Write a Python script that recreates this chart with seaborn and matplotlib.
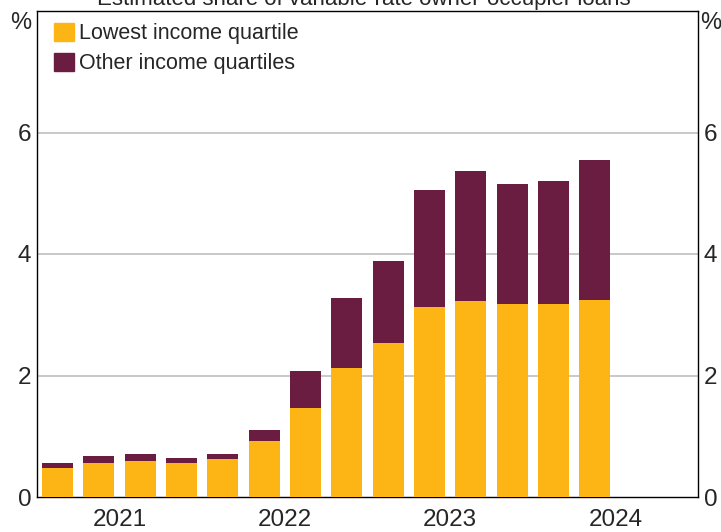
import pandas as pd
import numpy as np
import matplotlib
matplotlib.use('Agg')
import matplotlib.pyplot as plt
import seaborn as sns
from matplotlib.patches import Patch

# 数据 (从图上读出的估计值, 单位 %)
quarters = ['2021Q1', '2021Q2', '2021Q3', '2021Q4',
            '2022Q1', '2022Q2', '2022Q3', '2022Q4',
            '2023Q1', '2023Q2', '2023Q3', '2023Q4',
            '2024Q1', '2024Q2', '2024Q3', '2024Q4']
lowest = [0.48, 0.565, 0.60, 0.565, 0.63, 0.93, 1.47, 2.13,
          2.53, 3.12, 3.22, 3.17, 3.17, 3.25]
other = [0.085, 0.115, 0.10, 0.085, 0.08, 0.18, 0.61, 1.14,
         1.36, 1.93, 2.14, 1.98, 2.03, 2.29]
years = ['2021', '2022', '2023', '2024']
y_ticks = [0, 2, 4, 6]

c_low = '#FDB515'
c_other = '#6B1C41'

df = pd.DataFrame({'quarter': quarters[:len(lowest)],
                   'lowest': lowest, 'other': other})
df['total'] = df['lowest'] + df['other']

sns.set_theme(style='white')
plt.rcParams['font.family'] = ['Liberation Sans', 'DejaVu Sans']

fig = plt.figure(figsize=(7.21, 5.32), dpi=100)
ax = fig.add_axes([37/721, 35/532, 661/721, 486/532])

# 堆叠柱状图: 先画总数, 再画最低收入部分
sns.barplot(data=df, x='quarter', y='total', order=quarters, color=c_other,
            width=0.75, saturation=1, linewidth=0, edgecolor='none', ax=ax, zorder=3)
sns.barplot(data=df, x='quarter', y='lowest', order=quarters, color=c_low,
            width=0.75, saturation=1, linewidth=0, edgecolor='none', ax=ax, zorder=3)

ax.set_xlim(-0.5, len(quarters) - 0.5)
ax.set_ylim(0, 8)
ax.set_xlabel('')
ax.set_ylabel('')

# 网格线
for v in y_ticks[1:]:
    ax.axhline(v, color='#c4c4c4', lw=1.3, zorder=1)

# x轴: 年份分界的刻度 + 年份标签居中
ax.set_xticks([3.5, 7.5, 11.5])
ax.set_xticklabels([])
ax.tick_params(axis='x', which='major', direction='in', length=7, width=1, color='black')
ax.set_xticks([1.5 + 4 * i for i in range(len(years))], minor=True)
ax.set_xticklabels(years, minor=True)
ax.tick_params(axis='x', which='minor', length=0, labelsize=17.5, pad=9)

# y轴 两边都有标签
ax.set_yticks(y_ticks)
ax.tick_params(axis='y', length=0, labelsize=17.5, pad=4,
               left=True, right=True, labelleft=True, labelright=True)

for s in ax.spines.values():
    s.set_visible(True)
    s.set_color('black')
    s.set_linewidth(1.0)

fig.text(10/721, 1 - 12/532, '%', fontsize=17, va='top', ha='left')
fig.text(700/721, 1 - 12/532, '%', fontsize=17, va='top', ha='left')

# 标题 (在图片上端被截掉一半)
fig.text(0.505, 1 - 5/532, 'Estimated share of variable-rate owner-occupier loans',
         fontsize=16, ha='center', va='baseline')

handles = [Patch(color=c_low, label='Lowest income quartile'),
           Patch(color=c_other, label='Other income quartiles')]
ax.legend(handles=handles, loc='upper left', frameon=False, fontsize=15.5,
          handlelength=0.9, handleheight=0.9, handletextpad=0.25,
          borderaxespad=0.4, labelspacing=0.4, bbox_to_anchor=(0.0, 1.011))

fig.savefig('out.png', dpi=100)
